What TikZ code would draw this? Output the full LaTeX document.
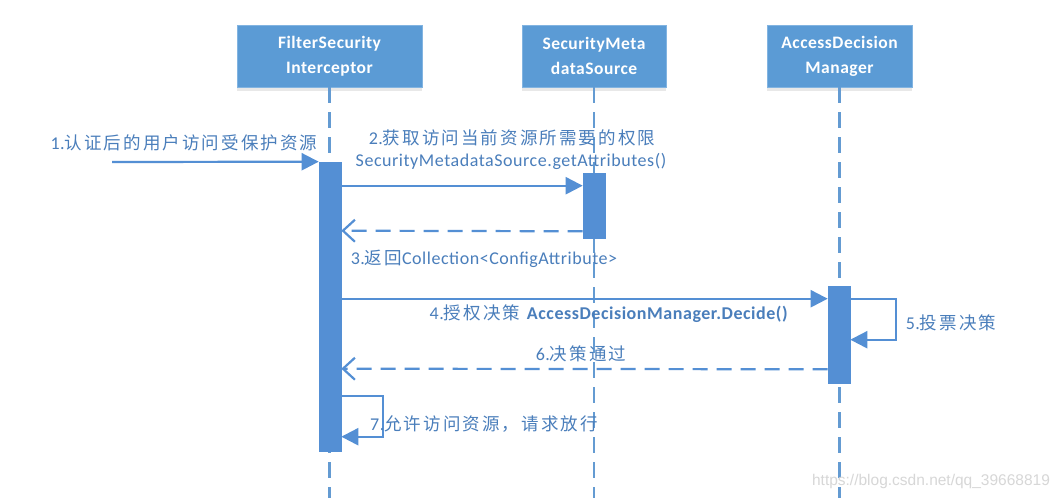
\documentclass[tikz,border=0pt]{standalone}
\usepackage{fontspec}
\setmainfont{Carlito}[LetterSpace=3]
\newfontfamily\cjk[LetterSpace=12]{Noto Sans CJK SC}
\newfontfamily\wmfont{Liberation Sans}
\usetikzlibrary{arrows.meta,shadows,calc}
\definecolor{boxblue}{RGB}{91,155,213}
\definecolor{boxedge}{RGB}{130,180,225}
\definecolor{linec}{RGB}{84,143,212}
\definecolor{lifec}{RGB}{100,155,210}
\definecolor{txtc}{RGB}{74,126,187}
\definecolor{wmc}{RGB}{215,215,215}
\newcommand{\zhs}[1]{{\cjk\fontsize{17.5}{21}\selectfont #1}}
\tikzset{
  actor/.style={draw=boxedge, line width=0.8pt, fill=boxblue, text=white,
    minimum height=62pt, align=center, inner sep=0pt,
    font=\fontsize{17.5}{25}\selectfont\bfseries,
    drop shadow={shadow xshift=0pt, shadow yshift=-4pt, opacity=0.18, fill=gray}},
  life/.style={draw=lifec, line width=2.2pt, dash pattern=on 16pt off 9pt},
  actbar/.style={fill=linec, draw=linec, line width=0.6pt, minimum width=22pt, inner sep=0pt},
  msg/.style={draw=linec, line width=2.2pt, -{Triangle[length=17pt,width=17pt]}},
  ret/.style={draw=linec, line width=2.2pt, dash pattern=on 15pt off 9pt,
    -{Straight Barb[length=12pt,width=22pt,line width=2.2pt]}},
  lbl/.style={text=txtc, inner sep=0pt, font=\fontsize{18}{21}\selectfont},
}
\begin{document}
\begin{tikzpicture}[x=1pt,y=-1pt]
\useasboundingbox[fill=white] (0,0) rectangle (1062,498);
% actors
\node[actor, minimum width=185pt] (A) at (329.5,56) {FilterSecurity\\Interceptor};
\node[actor, minimum width=144pt] (B) at (594,56) {SecurityMeta\\dataSource};
\node[actor, minimum width=145pt] (C) at (839.5,56) {AccessDecision\\Manager};
% lifeline ends
\coordinate (Aend) at (329.5,498);
\coordinate (Bend) at (594,498);
\coordinate (Cend) at (839.5,498);
\draw[life] (A.south) -- (Aend);
\draw[life] (B.south) -- (Bend);
\draw[life] (C.south) -- (Cend);
% activation bars
\node[actbar, minimum height=289pt] (a1) at (330,306.5) {};
\node[actbar, minimum height=65pt] (a2) at (594,205.5) {};
\node[actbar, minimum height=97pt] (a3) at (839,334.5) {};
% message 1
\coordinate (user) at (112,162);
\draw[msg] (user) -- (a1.north west);
\node[lbl] (l1) at (184,143) {1.\zhs{认证后的用户访问受保护资源}};
% message 2
\draw[msg] ($(a1.north east)+(0,24)$) -- ($(a2.north west)+(0,13)$);
\node[lbl] (l2a) at (512,138) {2.\zhs{获取访问当前资源所需要的权限}};
\node[lbl] (l2b) at (511,161) {SecurityMetadataSource.getAttributes()};
% message 3
\draw[ret] ($(a2.south west)+(0,-7)$) -- ($(a1.north east)+(0,69)$);
\node[lbl] (l3) at (484,259) {3.\zhs{返回}Collection<ConfigAttribute>};
% message 4
\draw[msg] ($(a1.north east)+(0,137)$) -- ($(a3.north west)+(0,13)$);
\node[lbl] (l4) at (609,314) {4.\zhs{授权决策} \textbf{AccessDecisionManager.Decide()}};
% message 5 (self)
\draw[msg] ($(a3.north east)+(0,13)$) -- ++(46,0) -- ++(0,41) -- ($(a3.north east)+(0,54)$);
\node[lbl] (l5) at (951,323) {5.\zhs{投票决策}};
% message 6
\draw[ret] ($(a3.south west)+(0,-14)$) -- ($(a1.north east)+(0,207)$);
\node[lbl] (l6) at (581,354) {6.\zhs{决策通过}};
% message 7 (self)
\draw[msg] ($(a1.north east)+(0,234)$) -- ++(42,0) -- ++(0,41) -- ($(a1.north east)+(0,275)$);
\node[lbl] (l7) at (484,424) {7.\zhs{允许访问资源，请求放行}};
% watermark
\node[text=wmc, inner sep=0pt, font=\wmfont\fontsize{15.5}{17}\selectfont] (wm) at (931,481) {https://blog.csdn.net/qq\_39668819};
\end{tikzpicture}
\end{document}
